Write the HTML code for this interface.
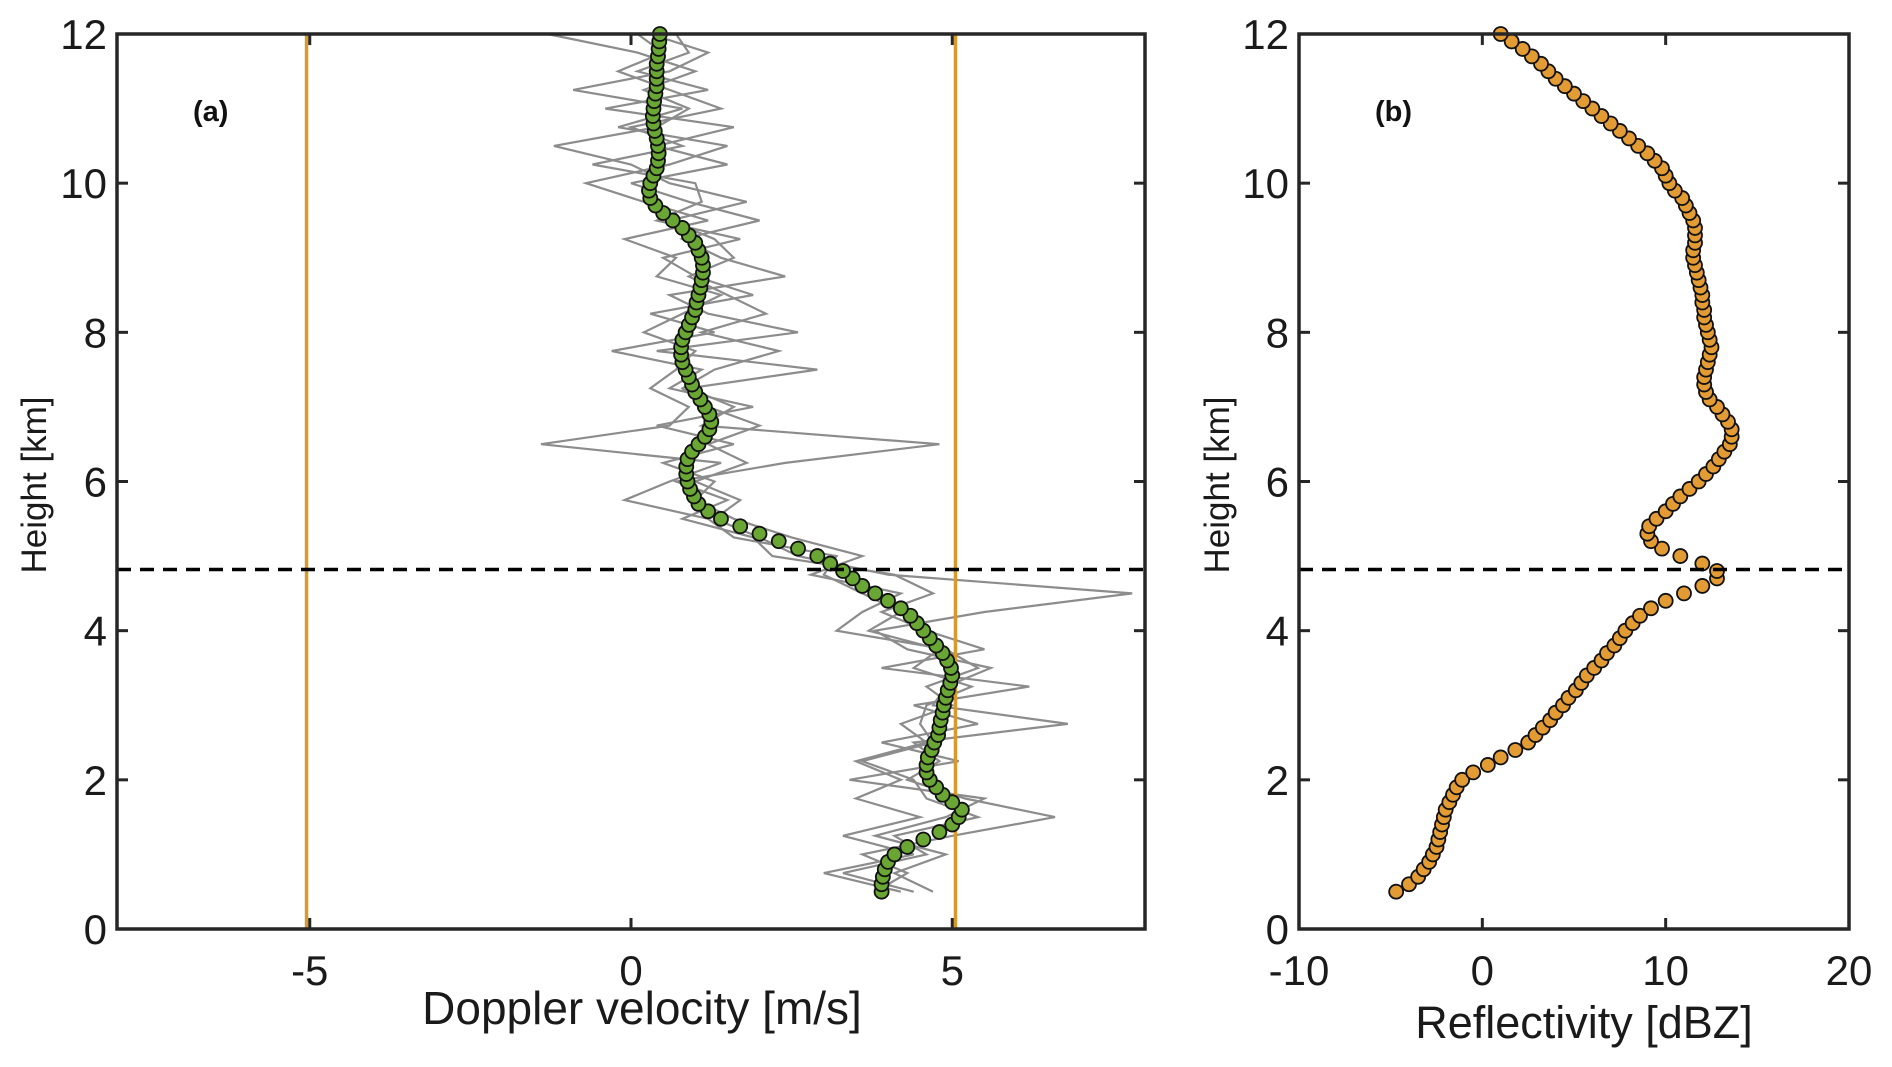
<!DOCTYPE html>
<html><head><meta charset="utf-8"><style>
body{margin:0;background:#fff;}
svg{display:block;font-family:"Liberation Sans",sans-serif;}
</style></head><body>
<svg id="chart" width="1892" height="1067"></svg>
<script>
const heights=[0.5,0.6,0.7,0.8,0.9,1.0,1.1,1.2,1.3,1.4,1.5,1.6,1.7,1.8,1.9,2.0,2.1,2.2,2.3,2.4,2.5,2.6,2.7,2.8,2.9,3.0,3.1,3.2,3.3,3.4,3.5,3.6,3.7,3.8,3.9,4.0,4.1,4.2,4.3,4.4,4.5,4.6,4.7,4.8,4.9,5.0,5.1,5.2,5.3,5.4,5.5,5.6,5.7,5.8,5.9,6.0,6.1,6.2,6.3,6.4,6.5,6.6,6.7,6.8,6.9,7.0,7.1,7.2,7.3,7.4,7.5,7.6,7.7,7.8,7.9,8.0,8.1,8.2,8.3,8.4,8.5,8.6,8.7,8.8,8.9,9.0,9.1,9.2,9.3,9.4,9.5,9.6,9.7,9.8,9.9,10.0,10.1,10.2,10.3,10.4,10.5,10.6,10.7,10.8,10.9,11.0,11.1,11.2,11.3,11.4,11.5,11.6,11.7,11.8,11.9,12.0];
const meanVelocity=[3.9,3.9,3.92,3.95,4.0,4.1,4.3,4.55,4.8,5.0,5.1,5.15,5.0,4.85,4.75,4.65,4.6,4.6,4.62,4.68,4.72,4.78,4.8,4.82,4.85,4.87,4.9,4.93,4.97,5.0,4.98,4.92,4.85,4.75,4.65,4.55,4.45,4.35,4.2,4.0,3.8,3.6,3.45,3.3,3.1,2.9,2.6,2.3,2.0,1.7,1.4,1.2,1.05,0.98,0.92,0.88,0.86,0.86,0.88,0.95,1.05,1.15,1.22,1.25,1.22,1.15,1.08,1.0,0.95,0.9,0.85,0.8,0.78,0.78,0.8,0.85,0.9,0.95,1.0,1.02,1.05,1.08,1.1,1.12,1.12,1.1,1.05,1.0,0.9,0.8,0.65,0.5,0.38,0.3,0.28,0.3,0.35,0.4,0.42,0.43,0.42,0.4,0.37,0.35,0.34,0.35,0.36,0.38,0.4,0.4,0.4,0.4,0.42,0.43,0.44,0.45];
const reflectivity=[-4.7,-4.0,-3.5,-3.2,-2.9,-2.7,-2.5,-2.4,-2.3,-2.2,-2.1,-2.0,-1.8,-1.6,-1.4,-1.1,-0.5,0.3,1.0,1.8,2.5,2.9,3.3,3.7,4.0,4.4,4.7,5.1,5.4,5.7,6.1,6.5,6.8,7.2,7.5,7.8,8.2,8.6,9.2,10.0,11.0,12.0,12.8,12.8,12.0,10.8,9.8,9.2,9.0,9.1,9.5,10.0,10.4,10.8,11.3,11.8,12.2,12.6,12.9,13.2,13.5,13.6,13.6,13.4,13.1,12.8,12.4,12.2,12.1,12.1,12.2,12.3,12.4,12.5,12.4,12.3,12.2,12.1,12.1,12.0,12.0,11.9,11.8,11.7,11.6,11.5,11.5,11.6,11.6,11.6,11.5,11.3,11.1,10.9,10.5,10.2,10.0,9.8,9.4,9.0,8.5,8.0,7.5,7.0,6.5,6.0,5.5,5.0,4.5,4.0,3.6,3.2,2.7,2.2,1.6,1.0];
const rawHeights=[0.5,0.75,1,1.25,1.5,1.75,2,2.25,2.5,2.75,3,3.25,3.5,3.75,4,4.25,4.5,4.75,5,5.25,5.5,5.75,6,6.25,6.5,6.75,7,7.25,7.5,7.75,8,8.25,8.5,8.75,9,9.25,9.5,9.75,10,10.25,10.5,10.75,11,11.25,11.5,11.75,12];
const raw1=[3.8,4.3,3.6,5.0,6.6,5.2,4.3,4.8,4.4,6.8,4.7,4.9,5.6,4.3,3.8,5.5,7.8,4.0,2.6,2.0,1.3,1.7,1.0,1.8,1.2,2.0,1.2,0.8,1.3,2.3,1.1,2.1,1.5,0.9,1.6,1.3,0.6,1.8,0.6,0.0,-1.2,0.4,0.9,0.2,1.0,0.1,-1.3];
const raw2=[4.4,3.3,4.6,4.1,5.4,4.6,4.4,3.6,4.7,4.5,4.6,5.3,4.4,4.8,3.7,4.2,3.6,3.0,3.2,1.6,1.2,-0.1,0.6,1.4,-1.4,0.6,0.9,0.3,0.7,1.0,0.2,0.8,1.4,0.4,0.7,-0.1,1.2,0.2,-0.7,0.6,1.5,-0.2,0.8,-0.9,0.6,1.2,0.3];
const raw3=[4.7,4.1,4.9,3.8,4.9,5.5,3.4,5.1,3.9,5.4,4.4,6.2,3.9,5.5,4.6,3.9,4.7,4.1,2.2,1.9,0.8,1.5,0.7,2.4,4.8,1.1,1.6,0.9,2.9,0.4,2.6,1.2,0.6,2.4,1.4,0.8,2.0,0.9,0.0,1.5,0.4,1.6,-0.4,1.2,0.1,0.9,0.7];
const raw4=[4.2,3.0,4.4,3.3,4.5,3.5,4.2,3.5,4.6,4.2,5.0,4.6,5.4,4.9,3.2,3.6,4.2,2.8,3.6,2.5,1.6,1.0,1.3,0.5,1.6,0.4,1.9,0.6,1.1,-0.3,1.3,0.3,1.9,1.0,0.5,1.7,0.4,1.1,1.0,-0.6,0.8,0.0,1.4,0.6,-0.2,0.5,0.1];
const velTicks=[-5,0,5];
const dbzTicks=[-10,0,10,20];
const hTicks=[0,2,4,6,8,10,12];
const velocityLimits=[-5.05,5.05];
const meltingLayer=4.82;

const NS="http://www.w3.org/2000/svg";
const svg=document.getElementById('chart');
function mk(tag,attrs,parent){const e=document.createElementNS(NS,tag);for(const k in attrs)e.setAttribute(k,attrs[k]);(parent||svg).appendChild(e);return e;}
const topY=34,botY=929;
const yS=h=>botY-(h/12)*(botY-topY);
const A={l:117,r:1145,min:-8,max:8};
const B={l:1299,r:1849,min:-10,max:20};
const xA=v=>A.l+(v-A.min)/(A.max-A.min)*(A.r-A.l);
const xB=v=>B.l+(v-B.min)/(B.max-B.min)*(B.r-B.l);

const gA=mk('g',{});


[raw1,raw2,raw3,raw4].forEach((s,i)=>{
  const d=s.map((v,j)=>(j?'L':'M')+xA(v).toFixed(1)+' '+yS(rawHeights[j]).toFixed(1)).join(' ');
  const p=mk('path',{d:d,fill:'none',stroke:'#8c8c8c','stroke-width':2.2},gA);
  
  
});
velocityLimits.forEach((v,i)=>{
  const l=mk('line',{x1:xA(v),x2:xA(v),y1:topY,y2:botY,stroke:'#d99a2b','stroke-width':3.5});
  
  
});
const gM=mk('g',{});


meanVelocity.forEach((v,i)=>{
  const c=mk('circle',{cx:xA(v),cy:yS(heights[i]),r:7,fill:'#6aa633',stroke:'#111','stroke-width':1.8},gM);
  
  
});
const gR=mk('g',{});


reflectivity.forEach((v,i)=>{
  const c=mk('circle',{cx:xB(v),cy:yS(heights[i]),r:7,fill:'#e39b34',stroke:'#111','stroke-width':1.8},gR);
  
  
});
[[A.l,A.r],[B.l,B.r]].forEach((p,i)=>{
  const l=mk('line',{x1:p[0],x2:p[1],y1:yS(meltingLayer),y2:yS(meltingLayer),stroke:'#000','stroke-width':3.5,'stroke-dasharray':'14 9'});
  
  
});
function axes(P,xf,xt,name,xlabel,tag,labX,labY,labSize,ylabX){
  const g=mk('g',{});
  
  
  mk('rect',{x:P.l,y:topY,width:P.r-P.l,height:botY-topY,fill:'none',stroke:'#262626','stroke-width':3.5},g);
  xt.forEach(v=>{
    const x=xf(v);
    mk('line',{x1:x,x2:x,y1:botY,y2:botY-11,stroke:'#262626','stroke-width':3},g);
    mk('line',{x1:x,x2:x,y1:topY,y2:topY+11,stroke:'#262626','stroke-width':3},g);
    const t=mk('text',{x:x,y:botY+56,'font-size':42,'text-anchor':'middle',fill:'#1a1a1a'},g);
    t.textContent=String(v);
    
    
  });
  hTicks.forEach(h=>{
    const y=yS(h);
    mk('line',{x1:P.l,x2:P.l+11,y1:y,y2:y,stroke:'#262626','stroke-width':3},g);
    mk('line',{x1:P.r,x2:P.r-11,y1:y,y2:y,stroke:'#262626','stroke-width':3},g);
    const t=mk('text',{x:P.l-10,y:y+15,'font-size':42,'text-anchor':'end',fill:'#1a1a1a'},g);
    t.textContent=h;
    
    
  });
  const xl=mk('text',{x:labX,y:labY,'font-size':labSize,'text-anchor':'middle',fill:'#1a1a1a'},g);
  xl.textContent=xlabel;
  
  
  const yl=mk('text',{x:0,y:0,'font-size':35,'text-anchor':'middle',fill:'#1a1a1a',transform:`translate(${ylabX},485) rotate(-90)`},g);
  yl.textContent='Height [km]';
  
  
  const pl=mk('text',{x:P.l+76,y:121,'font-size':29,'font-weight':'bold',fill:'#111'},g);
  pl.textContent=tag;
  
  
}
axes(A,xA,velTicks,'panel-a-axes','Doppler velocity [m/s]','(a)',642,1024,46,46);
axes(B,xB,dbzTicks,'panel-b-axes','Reflectivity [dBZ]','(b)',1584,1038,45,1229);
</script>
</body></html>
